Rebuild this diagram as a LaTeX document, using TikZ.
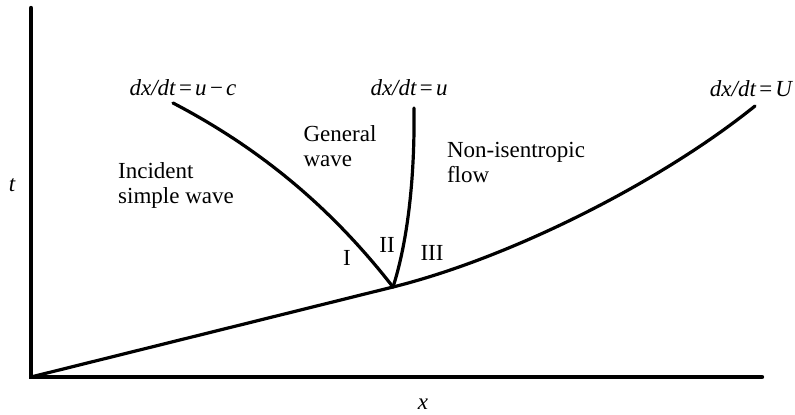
\documentclass[tikz,border=0pt]{standalone}
\usepackage{fontspec}
\setmainfont{Liberation Serif}
\usepackage{tikz}
\usetikzlibrary{positioning}

\begin{document}
\begin{tikzpicture}[x=0.5pt, y=-0.5pt,
    every node/.style={font=\fontsize{11.5}{12.5}\selectfont, inner sep=0pt},
    axis/.style={line width=2.2pt, line cap=round},
    path/.style={line width=1.6pt, line cap=round},
    region/.style={align=left},
    slope/.style={font=\fontsize{11.5}{12.5}\selectfont\itshape}
]
    \useasboundingbox (0,0) rectangle (795,415);
    % points of the (x,t) plane
    \coordinate (o) at (31,377);
    \coordinate (ttop) at (31,8);
    \coordinate (xend) at (762,377);
    \coordinate (j) at (393,287);
    \coordinate (cend) at (173,103);
    \coordinate (uend) at (414,108);
    \coordinate (Uend) at (755,106);
    % axes
    \draw[axis] (ttop) -- (o) -- (xend);
    \node (tlab) at (12,185) {\itshape t};
    \node (xlab) at (423,404) {\itshape x};
    % shock path and characteristics
    \draw[path] (o) -- (j);
    \draw[path] (j) .. controls (513,257) and (662,181) .. (Uend);
    \draw[path] (cend) .. controls (263,150) and (333,210) .. (j);
    \draw[path] (uend) .. controls (415,190) and (405,250) .. (j);
    % slopes
    \node[slope] (uc) at (183,88) {dx/dt\kern1pt=\kern1pt u\kern1pt−\kern1pt c};
    \node[slope] (u) at (409,88) {dx/dt\kern1pt=\kern1pt u};
    \node[slope] (U) at (751,89) {dx/dt\kern1pt=\kern1pt U};
    % regions
    \node[region] (gen) at (340,146) {General\\wave};
    \node[region] (inc) at (176,185) {Incident\\simple wave};
    \node[region] (non) at (516,163) {Non-isentropic\\flow};
    \node (one) at (347,258) {I};
    \node (two) at (387,245) {II};
    \node (three) at (432,253) {III};
\end{tikzpicture}
\end{document}
